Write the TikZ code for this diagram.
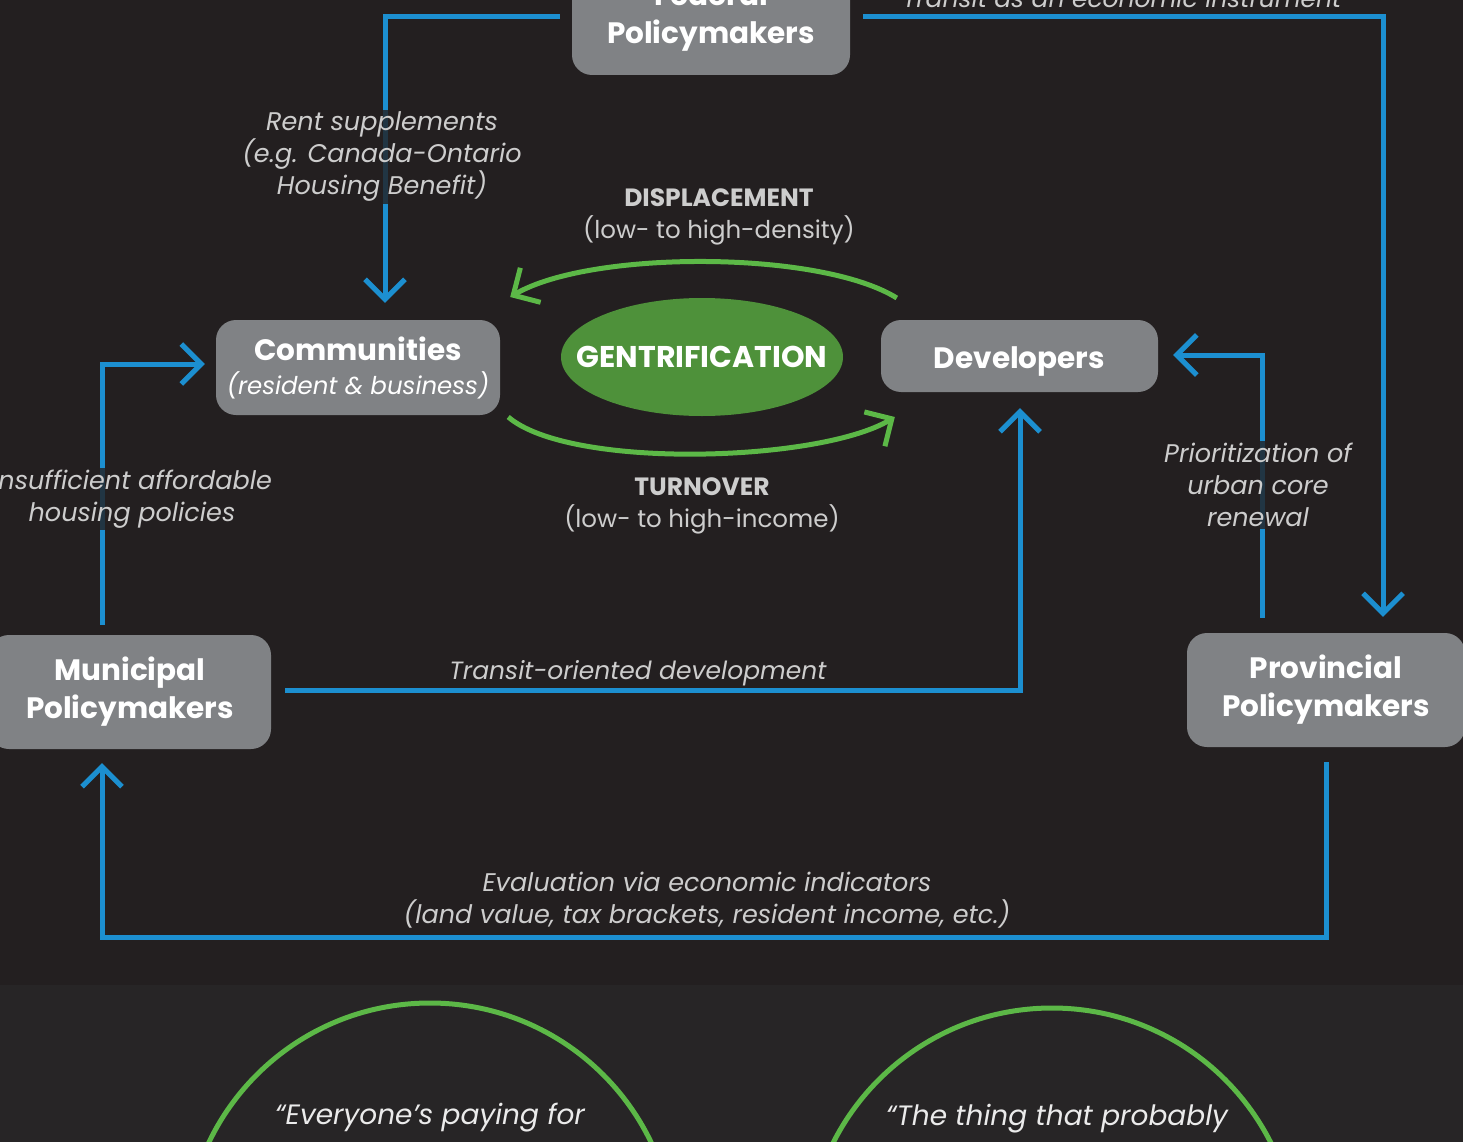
\documentclass[tikz,border=0pt]{standalone}
\usepackage{fontspec}
\setmainfont{Poppins}
\usetikzlibrary{arrows.meta,calc,shapes.geometric}
\definecolor{bg}{RGB}{35,31,32}
\definecolor{bgtwo}{RGB}{39,37,38}
\definecolor{boxgray}{RGB}{128,130,133}
\definecolor{flowblue}{RGB}{28,143,208}
\definecolor{arcgreen}{RGB}{92,184,71}
\definecolor{ellgreen}{RGB}{78,145,58}
\definecolor{lbl}{RGB}{205,205,205}
\tikzset{
  actor/.style={draw=none, fill=boxgray, rounded corners=20pt, text=white,
    font=\bfseries\fontsize{29.5}{38}\selectfont, align=center, inner sep=0pt},
  flow/.style={draw=flowblue, line width=5pt,
    -{Straight Barb[length=20pt,width=40pt,line width=5pt]}},
  greenarc/.style={draw=arcgreen, line width=5pt,
    -{Straight Barb[length=20pt,width=40pt,line width=5pt]}},
  lab/.style={text=lbl, font=\itshape\fontsize{25.5}{32}\selectfont, align=center,
    fill=bg, fill opacity=0.8, text opacity=1, inner sep=2pt},
  headlab/.style={text=lbl, font=\fontsize{24.5}{32}\selectfont, align=center},
  quote/.style={text=white!92!black, font=\itshape\fontsize{28}{34}\selectfont, align=center},
  ring/.style={draw=arcgreen, line width=5pt}
}
\begin{document}
\begin{tikzpicture}[x=1pt,y=-1pt]
\useasboundingbox (0,0) rectangle (1463,1142);
\clip (0,0) rectangle (1463,1142);
\fill[bg] (0,0) rectangle (1463,985);
\fill[bgtwo] (0,985) rectangle (1463,1142);

% circles at the bottom
\draw[ring] (430,1248) circle[radius=245pt];
\draw[ring] (1052,1253) circle[radius=245pt];
\node[quote] (q1) at (430,1118) {“Everyone's paying for};
\node[quote] (q2) at (1057,1119) {“The thing that probably};

% actors
\node[actor, minimum width=278pt, minimum height=116pt] (fed) at (711,17) {Federal\\Policymakers};
\node[actor, minimum width=284pt, minimum height=95pt] (comm) at (358,367.5)
  {Communities\\[-4pt]{\mdseries\itshape\fontsize{24.5}{32}\selectfont (resident \& business)}};
\node[actor, minimum width=277pt, minimum height=72pt, text height=30pt, text depth=6pt] (dev) at (1019.5,356) {Developers};
\node[actor, minimum width=282pt, minimum height=114pt] (muni) at (130,692) {Municipal\\Policymakers};
\node[actor, minimum width=278pt, minimum height=114pt] (prov) at (1326,690) {Provincial\\Policymakers};
\node[ellipse, fill=ellgreen, minimum width=282pt, minimum height=118pt, inner sep=0pt,
  text=white, font=\bfseries\fontsize{30}{36}\selectfont] (gent) at (702,357)
  {\makebox[0pt]{GENTRIFICATION}};

% blue flows
\draw[flow] ($(fed.west)+(-12,0)$) -| ($(comm.north)+(27,-17)$);
\draw[flow] ($(fed.east)+(13,0)$) -| ($(prov.north)+(57,-16)$);
\draw[flow] ($(muni.north)+(-28,-10)$) |- ($(comm.west)+(-11,-3.5)$);
\draw[flow] ($(muni.east)+(14,-2)$) -| ($(dev.south)+(0.5,16)$);
\draw[flow] ($(prov.north)+(-64,-15)$) |- ($(dev.east)+(15,-1)$);
\draw[flow] ($(prov.south)+(0,15)$) -- ++(0,175) -| ($(muni.south)+(-28,14)$);

% green cycle
\draw[greenarc] ($(dev.west)+(16,-58)$) .. controls +(-77,-48) and +(80,-47) .. ($(comm.east)+(10,-70.5)$);
\draw[greenarc] ($(comm.east)+(8,49.5)$) .. controls +(62,53) and +(-75,45) .. ($(dev.west)+(14,61)$);

% labels
\node[lab, fill=none, anchor=base, font=\itshape\fontsize{25}{32}\selectfont] (l0) at (1122,8) {Transit as an economic instrument};
\node[lab] (l1) at (382,157) {Rent supplements\\(e.g. Canada-Ontario\\Housing Benefit)};
\node[lab] (l2) at (132,499) {Insufficient affordable\\housing policies};
\node[headlab] (l3) at (719,217) {{\bfseries\fontsize{25}{32}\selectfont DISPLACEMENT}\\(low- to high-density)};
\node[headlab] (l4) at (702,506) {{\bfseries\fontsize{25}{32}\selectfont TURNOVER}\\(low- to high-income)};
\node[lab, fill=none, font=\itshape\fontsize{25}{32}\selectfont] (l5) at (638,673) {Transit-oriented development};
\node[lab] (l6) at (1258,485) {Prioritization of\\urban core\\renewal};
\node[lab, fill=none] (l7) at (707,900) {Evaluation via economic indicators\\(land value, tax brackets, resident income, etc.)};
\end{tikzpicture}
\end{document}
